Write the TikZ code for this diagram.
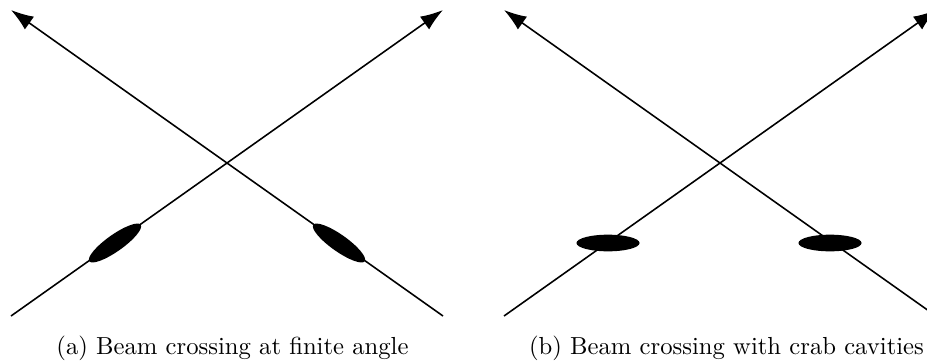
\documentclass[tikz,border=0pt]{standalone}
\usepackage{amsmath}
\usepackage{tikz}
\usetikzlibrary{arrows.meta,shapes.geometric}

\tikzset{
  beam/.style={line width=0.7pt,-{Latex[length=10pt,width=7pt]}},
  bunch/.style={ellipse,fill=black,inner sep=0pt,minimum width=28pt,minimum height=7.4pt},
  caption/.style={font=\fontsize{10.95}{13}\selectfont}
}

\begin{document}
\begin{tikzpicture}[x=0.444pt,y=-0.444pt]
  \useasboundingbox (0,0) rectangle (927,362);
  % finite angle
  \coordinate (asw) at (11,316); \coordinate (ane) at (443,10);
  \coordinate (ase) at (443,316); \coordinate (anw) at (11,10);
  \draw[beam] (asw) -- (ane);
  \draw[beam] (ase) -- (anw);
  \node[bunch,rotate=35.3] (abl) at (115,243) {};
  \node[bunch,rotate=-35.3] (abr) at (339,243) {};
  \node[caption] (capa) at (232.5,348) {(a) Beam crossing at finite angle};
  % crab cavities
  \coordinate (bsw) at (504,316); \coordinate (bne) at (936,10);
  \coordinate (bse) at (936,316); \coordinate (bnw) at (504,10);
  \draw[beam] (bsw) -- (bne);
  \draw[beam] (bse) -- (bnw);
  \node[bunch] (bbl) at (608,243) {};
  \node[bunch] (bbr) at (830,243) {};
  \node[caption] (capb) at (726.5,348) {(b) Beam crossing with crab cavities};
\end{tikzpicture}
\end{document}
